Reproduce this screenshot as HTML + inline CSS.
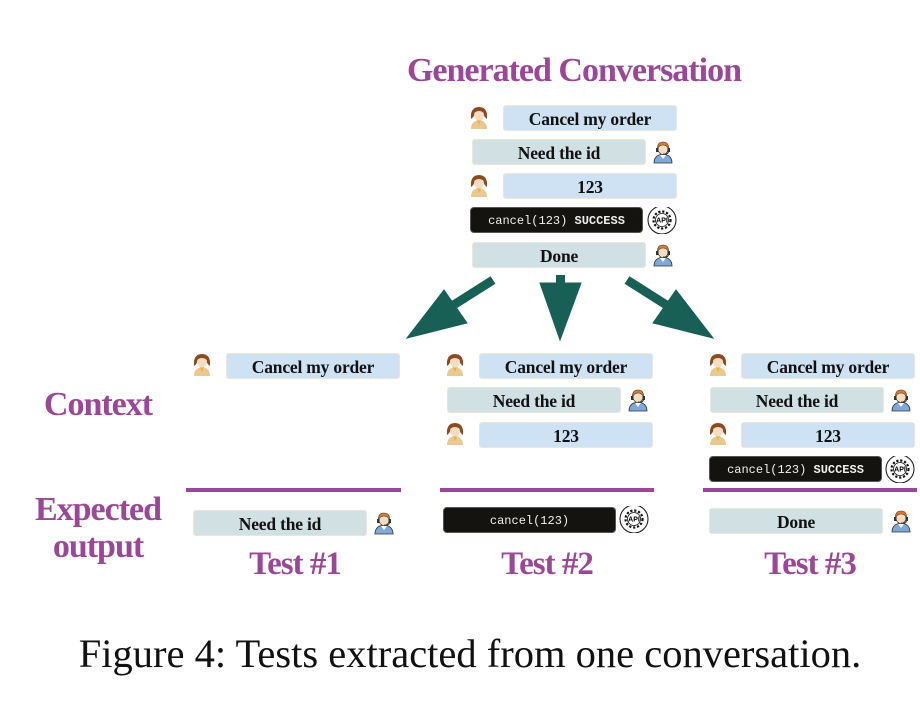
<!DOCTYPE html>
<html><head><meta charset="utf-8"><style>
body{margin:0;width:920px;height:722px;background:#fff;position:relative;overflow:hidden;font-family:"Liberation Serif",serif}
.b{position:absolute;height:26px;line-height:27px;text-align:center;font-weight:bold;font-size:17.5px;color:#111;border-radius:3px;box-sizing:border-box;border:1px solid #ece6d8;letter-spacing:-0.2px}
.u{background:#cfe2f3;width:174px}
.a{background:#d0e0e3;width:174px}
.d{background:#15130f;color:#f0f0f0;width:173px;font-family:"Liberation Mono",monospace;font-size:12px;font-weight:normal;border-radius:4px;border:1px solid #555;letter-spacing:0}
.d b{font-weight:bold}
.t{position:absolute;color:#9b4797;font-weight:bold;text-align:center;letter-spacing:-1px}
.ln{position:absolute;height:4px;background:#9b4797;top:488px}
svg.i{position:absolute}
</style></head><body>
<svg width="0" height="0" style="position:absolute"><defs>
<g id="usr"><path d="M4 24 Q4 16 12 15 Q20 16 20 24Z" fill="#e8c98f"/><path d="M10 15 L12 20 L14 15Z" fill="#f0b23a"/><path d="M4 14 Q3 2 12 2 Q21 2 20 14 Q17 12 16 8 Q12 9 8 8 Q7 12 4 14Z" fill="#8a4b22"/><ellipse cx="12" cy="10" rx="5" ry="5.5" fill="#f6dcc0"/><path d="M7 8 Q12 4 17 8 Q17 4 12 4 Q7 4 7 8Z" fill="#8a4b22"/></g>
<g id="agt"><path d="M3 23 Q3 15 12 14 Q21 15 21 23Z" fill="#7fa9d9" stroke="#333" stroke-width="0.8"/><path d="M9 15 L12 19 L15 15Z" fill="#fff"/><ellipse cx="12" cy="9" rx="5" ry="5.5" fill="#f6dcc0" stroke="#333" stroke-width="0.6"/><path d="M6.5 9 Q6 2 12 2 Q18 2 17.5 9 Q16 5 12 5 Q8 5 6.5 9Z" fill="#e07a2a" stroke="#333" stroke-width="0.6"/><rect x="5" y="8" width="2.5" height="4" fill="#333"/><rect x="16.5" y="8" width="2.5" height="4" fill="#333"/><path d="M17.5 12 Q16 15 12 14" stroke="#333" fill="none"/></g>
<g id="api"><circle cx="15" cy="13" r="14" fill="#fff" stroke="#111" stroke-width="1"/><circle cx="15" cy="13" r="8.5" fill="none" stroke="#111" stroke-width="2.2" stroke-dasharray="2.2 1.8"/><circle cx="15" cy="13" r="6.5" fill="#fff" stroke="#111" stroke-width="0.8"/><text x="15" y="15.5" font-size="7" font-family="Liberation Sans,sans-serif" font-weight="bold" text-anchor="middle">API</text></g>
</defs></svg>

<div class="t" style="left:354px;top:52px;width:440px;font-size:34px">Generated Conversation</div>

<svg class="i" style="left:467px;top:105px" width="24" height="26"><use href="#usr"/></svg>
<div class="b u" style="left:503px;top:105px">Cancel my order</div>
<div class="b a" style="left:472px;top:139px">Need the id</div>
<svg class="i" style="left:651px;top:140px" width="24" height="26"><use href="#agt"/></svg>
<svg class="i" style="left:467px;top:173px" width="24" height="26"><use href="#usr"/></svg>
<div class="b u" style="left:503px;top:173px">123</div>
<div class="b d" style="left:470px;top:207px">cancel(123) <b>SUCCESS</b></div>
<svg class="i" style="left:647px;top:207px" width="31" height="27"><use href="#api"/></svg>
<div class="b a" style="left:472px;top:242px">Done</div>
<svg class="i" style="left:651px;top:243px" width="24" height="26"><use href="#agt"/></svg>

<svg class="i" style="left:0;top:0" width="920" height="360">
<g fill="#185f55" stroke="#185f55">
<line x1="627" y1="280" x2="668" y2="306" stroke-width="9"/>
<polygon points="653,323 676,290 713,338" stroke-width="1"/>
<line x1="493" y1="280" x2="452" y2="306" stroke-width="9"/>
<polygon points="467,323 444,290 407,338" stroke-width="1"/>
<rect x="556" y="275" width="9" height="10" stroke="none"/>
<polygon points="540,283 581,283 560,340" stroke-width="1"/>
</g></svg>

<div class="t" style="left:10px;top:386px;width:176px;font-size:34px">Context</div>
<div class="t" style="left:0px;top:491px;width:196px;font-size:34px;line-height:37px">Expected<br>output</div>

<!-- Test 1 -->
<svg class="i" style="left:190px;top:352px" width="24" height="26"><use href="#usr"/></svg>
<div class="b u" style="left:226px;top:353px">Cancel my order</div>
<div class="ln" style="left:186px;width:215px"></div>
<div class="b a" style="left:193px;top:510px">Need the id</div>
<svg class="i" style="left:372px;top:511px" width="24" height="26"><use href="#agt"/></svg>
<div class="t" style="left:195px;top:546px;width:200px;font-size:33px">Test #1</div>

<!-- Test 2 -->
<svg class="i" style="left:443px;top:352px" width="24" height="26"><use href="#usr"/></svg>
<div class="b u" style="left:479px;top:353px">Cancel my order</div>
<div class="b a" style="left:447px;top:387px">Need the id</div>
<svg class="i" style="left:626px;top:388px" width="24" height="26"><use href="#agt"/></svg>
<svg class="i" style="left:443px;top:421px" width="24" height="26"><use href="#usr"/></svg>
<div class="b u" style="left:479px;top:422px">123</div>
<div class="ln" style="left:440px;width:214px"></div>
<div class="b d" style="left:443px;top:507px">cancel(123)</div>
<svg class="i" style="left:619px;top:506px" width="31" height="27"><use href="#api"/></svg>
<div class="t" style="left:447px;top:546px;width:200px;font-size:33px">Test #2</div>

<!-- Test 3 -->
<svg class="i" style="left:706px;top:352px" width="24" height="26"><use href="#usr"/></svg>
<div class="b u" style="left:741px;top:353px">Cancel my order</div>
<div class="b a" style="left:710px;top:387px">Need the id</div>
<svg class="i" style="left:889px;top:388px" width="24" height="26"><use href="#agt"/></svg>
<svg class="i" style="left:706px;top:421px" width="24" height="26"><use href="#usr"/></svg>
<div class="b u" style="left:741px;top:422px">123</div>
<div class="b d" style="left:709px;top:456px">cancel(123) <b>SUCCESS</b></div>
<svg class="i" style="left:885px;top:456px" width="31" height="27"><use href="#api"/></svg>
<div class="ln" style="left:703px;width:214px"></div>
<div class="b a" style="left:709px;top:508px">Done</div>
<svg class="i" style="left:889px;top:509px" width="24" height="26"><use href="#agt"/></svg>
<div class="t" style="left:710px;top:546px;width:200px;font-size:33px">Test #3</div>

<div style="position:absolute;left:10px;width:920px;top:630px;text-align:center;font-size:40.5px;color:#111;font-family:'Liberation Serif',serif">Figure 4: Tests extracted from one conversation.</div>
</body></html>
